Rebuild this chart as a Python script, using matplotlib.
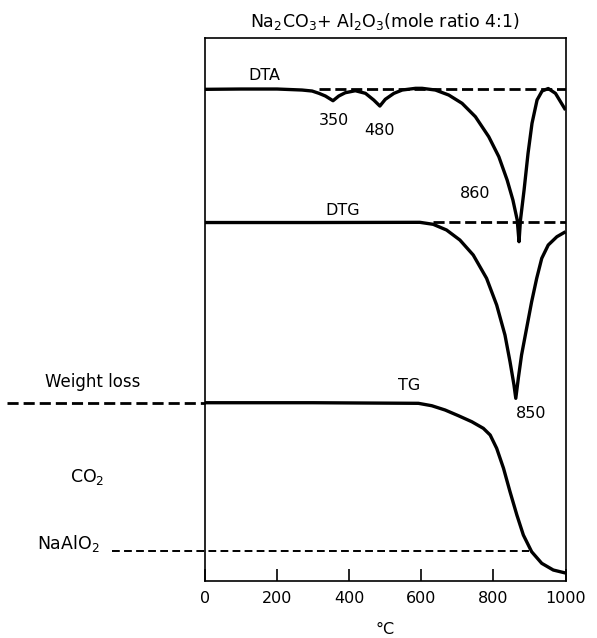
import numpy as np
import matplotlib
matplotlib.use("Agg")
import matplotlib.pyplot as plt

# temperature (deg C) and signal (arbitrary units)
dta_t = [0, 100, 200, 269, 297, 316, 334, 355, 371, 389, 417, 445, 468, 485,
         500, 524, 547, 584, 602, 639, 676, 713, 750, 787, 815, 838, 854, 866,
         871, 875, 885, 896, 907, 921, 935, 952, 972, 1000]
dta_y = [491.7, 492, 492, 491, 490, 487.7, 485, 480.3, 485, 488.3, 490.3, 487.7,
         481, 475, 481.7, 487.7, 491, 492.7, 492.7, 491, 486, 477.7, 464.3, 444.3,
         424.3, 401, 381, 361, 339.3, 361, 391, 427.7, 457.7, 481, 490, 492.5,
         487.7, 471]

dtg_t = [0, 300, 596, 633, 670, 707, 744, 781, 809, 832, 846, 857, 862, 869,
         878, 892, 906, 920, 934, 952, 976, 1000]
dtg_y = [358.5, 358.5, 358.7, 356.7, 351, 341, 326, 302.7, 276, 246, 219.3, 196,
         182.7, 202.7, 226, 252.7, 279.3, 302.7, 322.7, 336, 344.3, 349.3]

tg_t = [0, 300, 592, 629, 666, 703, 740, 772, 791, 809, 828, 846, 865, 883,
        906, 934, 966, 1000]
tg_y = [178.3, 178.3, 177.7, 175.3, 171, 165.3, 159.3, 152.7, 146, 132.7, 112.7,
        89.3, 66, 46, 29.3, 17.7, 11, 8]

dta_base = 492.5
dtg_base = 358.7
tg_start = 178.3
naalo2_level = 30

xticks = [0, 200, 400, 600, 800, 1000]

fig = plt.figure(figsize=(5.97, 6.38), dpi=100)
ax = fig.add_axes([0.3434, 0.0893, 0.6039, 0.8511])
ax.set_xlim(0, 1000)
ax.set_ylim(0, 543)

lw = 2.4

# baselines
ax.plot([315, 1000], [dta_base, dta_base], color="black", lw=2.0, ls=(0, (4, 1.7)))
ax.plot([633, 1000], [dtg_base, dtg_base], color="black", lw=2.0, ls=(0, (4, 1.7)))
ax.plot([-550, 0], [tg_start, tg_start], color="black", lw=2.0,
        ls=(0, (4, 1.8)), clip_on=False)
ax.plot([-259, 900], [naalo2_level, naalo2_level], color="black", lw=1.4,
        ls=(0, (4, 2.2)), clip_on=False)

# curves
for t, y in [(dta_t, dta_y), (dtg_t, dtg_y), (tg_t, tg_y)]:
    ax.plot(t, y, color="black", lw=lw, solid_joinstyle="round",
            solid_capstyle="butt")

fs = 11.5
ax.text(164, 506, "DTA", fontsize=fs, ha="center", va="center")
ax.text(357, 461, "350", fontsize=fs, ha="center", va="center")
ax.text(484, 451, "480", fontsize=fs, ha="center", va="center")
ax.text(748, 388, "860", fontsize=fs, ha="center", va="center")
ax.text(381, 371, "DTG", fontsize=fs, ha="center", va="center")
ax.text(566, 196, "TG", fontsize=fs, ha="center", va="center")
ax.text(905, 168, "850", fontsize=fs, ha="center", va="center")

ax.text(-311, 199, "Weight loss", fontsize=12, ha="center", va="center", clip_on=False)
ax.text(-328, 104, "CO$_2$", fontsize=12.5, ha="center", va="center", clip_on=False)
ax.text(-378, 38, "NaAlO$_2$", fontsize=12.5, ha="center", va="center", clip_on=False)

ax.set_title("Na$_2$CO$_3$+ Al$_2$O$_3$(mole ratio 4:1)", fontsize=12.5, pad=8)

ax.set_xticks(xticks)
ax.set_xticklabels([str(t) for t in xticks], fontsize=fs)
ax.tick_params(axis="x", direction="in", length=9, width=1.2, pad=7)
ax.set_yticks([])
ax.set_xlabel("°C", fontsize=fs, labelpad=12)
for s in ax.spines.values():
    s.set_linewidth(1.2)

fig.savefig("out.png", dpi=100)
